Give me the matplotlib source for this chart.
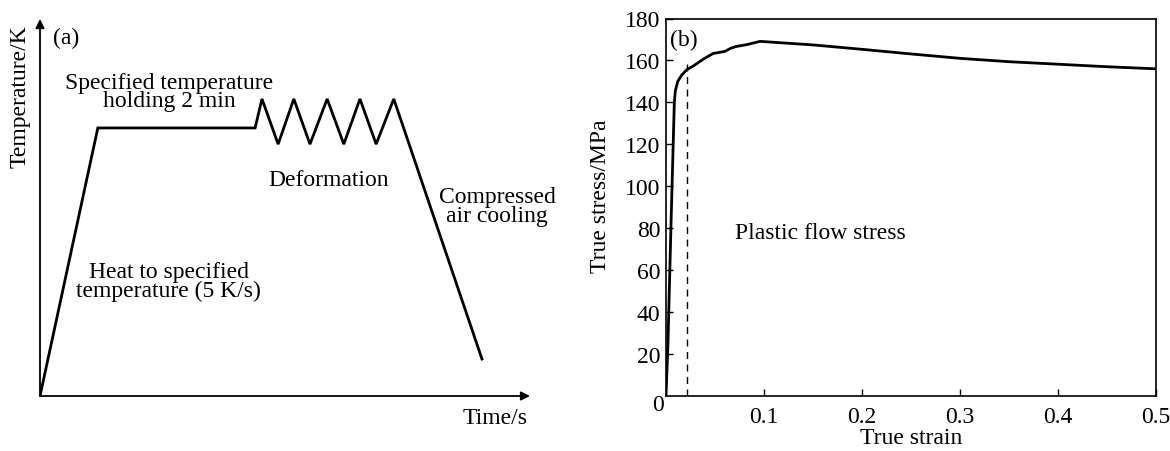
import matplotlib
matplotlib.use("Agg")
import matplotlib.pyplot as plt
import numpy as np

plt.rcParams['font.family'] = ['Liberation Serif', 'DejaVu Serif']

# (a) schematic of the thermal cycle (arbitrary units)
time_a = [0, 11.8, 43.9, 45.3, 48.6, 51.8, 55.1, 58.6, 62.0, 65.3, 68.6, 72.2, 90.2]
temp_a = [0, 71.1, 71.1, 78.8, 66.8, 78.8, 66.8, 78.8, 66.8, 78.8, 66.8, 78.8, 9.8]

# (b) true stress-strain curve
strain = [0, 0.002, 0.005, 0.0085, 0.0095, 0.012, 0.016, 0.021, 0.028, 0.038, 0.048,
          0.055, 0.060, 0.066, 0.071, 0.083, 0.096, 0.15, 0.2, 0.25, 0.3, 0.35, 0.4, 0.45, 0.5]
stress = [0, 25, 80, 140, 145.5, 150, 153, 155.5, 157.4, 160.6, 163.3,
          163.9, 164.3, 165.8, 166.6, 167.6, 169.1, 167.4, 165.3, 163.1, 161.0, 159.4, 158.2, 157.0, 156.0]
yield_strain = 0.021
yield_top = 160

W, H = 1170, 452
fig = plt.figure(figsize=(W / 100, H / 100), dpi=100)
fs = 17

# ---- panel (a)
x0, x1, y0, y1 = 40, 530, 397, 20
axa = fig.add_axes([x0 / W, 1 - y0 / H, (x1 - x0) / W, (y0 - y1) / H])
axa.plot(time_a, temp_a, color='black', lw=2.0, solid_joinstyle='miter')
axa.set_xlim(0, 100)
axa.set_ylim(0, 100)
axa.axis('off')
arrow = dict(arrowstyle='-|>', color='black', lw=1.3, mutation_scale=13, shrinkA=0, shrinkB=0)
axa.annotate('', xy=(1.0, 0), xytext=(0, 0), xycoords='axes fraction', arrowprops=arrow)
axa.annotate('', xy=(0, 1.0), xytext=(0, 0), xycoords='axes fraction', arrowprops=arrow)

axa.text(2.7, 95.0, '(a)', fontsize=fs, ha='left', va='center')
axa.text(26.3, 80.8, 'Specified temperature\nholding 2 min', fontsize=fs, ha='center',
         va='center', linespacing=0.85)
axa.text(59, 57.5, 'Deformation', fontsize=fs, ha='center', va='center')
axa.text(93.3, 50.4, 'Compressed\nair cooling', fontsize=fs, ha='center', va='center',
         linespacing=0.85)
axa.text(26.3, 30.5, 'Heat to specified\ntemperature (5 K/s)', fontsize=fs, ha='center',
         va='center', linespacing=0.85)
axa.text(-4.1, 79.6, 'Temperature/K', fontsize=fs, rotation=90, ha='center', va='center')
axa.text(92.8, -5.6, 'Time/s', fontsize=fs, ha='center', va='center')

# ---- panel (b)
bx0, bx1, by0, by1 = 666, 1156, 397, 19.5
axb = fig.add_axes([bx0 / W, 1 - by0 / H, (bx1 - bx0) / W, (by0 - by1) / H])
axb.plot(strain, stress, color='black', lw=2.0)
axb.plot([yield_strain, yield_strain], [0, yield_top], color='black', lw=1.0,
         linestyle=(0, (5, 4)))
axb.set_xlim(0, 0.5)
axb.set_ylim(0, 180)
axb.set_xticks([0.1, 0.2, 0.3, 0.4, 0.5])
axb.set_xticklabels(['0.1', '0.2', '0.3', '0.4', '0.5'])
yt = np.arange(20, 181, 20)
axb.set_yticks(yt)
axb.set_yticklabels([str(v) for v in yt])
axb.tick_params(direction='in', length=5, width=1, labelsize=fs, pad=4)
axb.tick_params(axis='x', pad=7)
for s in axb.spines.values():
    s.set_linewidth(1.2)
# corner "0" shared by both axes
axb.annotate('0', xy=(0, 0), xycoords='data', xytext=(-6, -6), textcoords='offset points',
             fontsize=fs, ha='center', va='center')
axb.set_xlabel('True strain', fontsize=fs, labelpad=0)
axb.set_ylabel('True stress/MPa', fontsize=fs)
axb.yaxis.set_label_coords(-55 / (bx1 - bx0), 1 - (196 - by1) / (by0 - by1))
axb.text(0.018, 170, '(b)', fontsize=fs, ha='center', va='center')
axb.text(0.070, 78, 'Plastic flow stress', fontsize=fs, ha='left', va='center')

fig.savefig('out.png', dpi=100)
